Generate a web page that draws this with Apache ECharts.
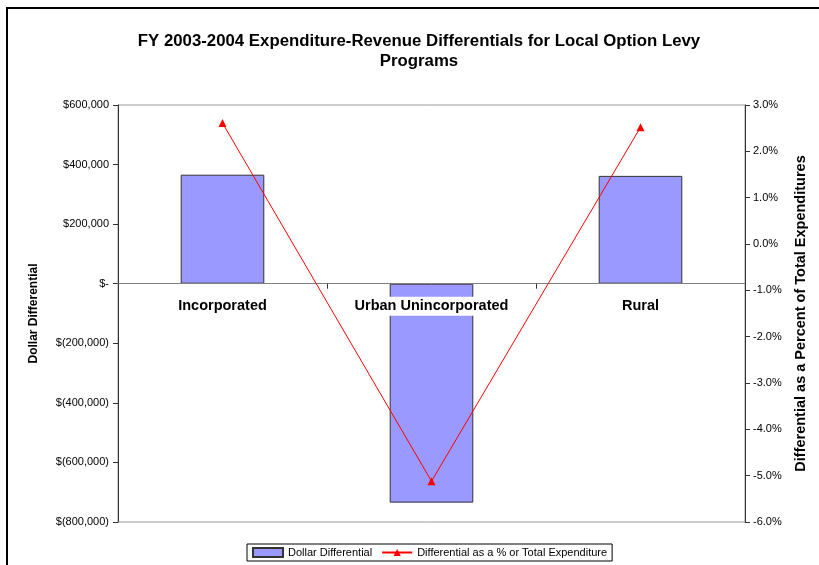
<!DOCTYPE html>
<html>
<head>
<meta charset="utf-8">
<script src="https://cdn.jsdelivr.net/npm/echarts@6/dist/echarts.min.js"></script>
<style>
  html, body { margin: 0; padding: 0; background: #fff; }
  #main { width: 819px; height: 565px; }
</style>
</head>
<body>
<div id="main"></div>
<script>
// data
const categories = ['Incorporated', 'Urban Unincorporated', 'Rural']
const dollarDiff = [366000, -735000, 362000]
const percentDiff = [2.61, -5.12, 2.52]

const dollarMin = -800000
const dollarMax = 600000

const fmtDollar = (v) => {
  if (v === 0) return '$-'
  const s = Math.abs(v).toLocaleString('en-US')
  return v < 0 ? '$(' + s + ')' : '$' + s
}

var myChart = echarts.init(document.getElementById('main'))
const font = 'Liberation Sans, Arial, sans-serif'

// grid size, used to put the category labels just under the zero line
const gridTop = 105, gridBottom = 43
const plotH = 565 - gridTop - gridBottom
const zeroFromBottom = plotH * (0 - dollarMin) / (dollarMax - dollarMin)

myChart.setOption({
  animation: false,
  textStyle: { fontFamily: font },
  graphic: [
    {
      type: 'rect',
      shape: { x: 7, y: 8, width: 900, height: 700 },
      style: { fill: 'none', stroke: '#000', lineWidth: 2 },
      silent: true
    },
    // title, a little right of the canvas centre like the original
    {
      type: 'text',
      x: 419,
      y: 31,
      style: {
        text: 'FY 2003-2004 Expenditure-Revenue Differentials for Local Option Levy\nPrograms',
        align: 'center',
        verticalAlign: 'top',
        fontFamily: font,
        fontSize: 16.8,
        fontWeight: 'bold',
        lineHeight: 20,
        fill: '#000'
      },
      silent: true
    }
  ],
  grid: {
    left: 118, right: 74, top: gridTop, bottom: gridBottom,
    show: true, borderColor: '#999', borderWidth: 1
  },
  legend: {
    bottom: 4,
    left: 247,
    borderColor: '#000',
    borderWidth: 1,
    borderRadius: 0,
    padding: [3, 5],
    itemGap: 9,
    itemWidth: 30,
    itemHeight: 9,
    textStyle: { fontSize: 11, color: '#000' },
    data: [
      { name: 'Dollar Differential', icon: 'rect' },
      'Differential as a % or Total Expenditure'
    ]
  },
  xAxis: {
    type: 'category',
    data: categories,
    z: 5,
    axisLine: { onZero: true, onZeroAxisIndex: 0, lineStyle: { color: '#808080' } },
    axisTick: { show: true, length: 5, lineStyle: { color: '#333' } },
    axisLabel: {
      fontSize: 14.5, fontWeight: 'bold', color: '#000',
      backgroundColor: '#fff', padding: [2, 0, 2, 0],
      margin: 13 - zeroFromBottom
    }
  },
  yAxis: [
    {
      type: 'value',
      min: dollarMin, max: dollarMax, interval: 200000,
      name: 'Dollar Differential',
      nameLocation: 'middle',
      nameRotate: 90,
      nameGap: 78,
      nameTextStyle: { fontSize: 12, fontWeight: 'bold', color: '#000' },
      axisLine: { show: true, lineStyle: { color: '#333' } },
      axisTick: { show: true, length: 5, lineStyle: { color: '#333' } },
      splitLine: { show: false },
      axisLabel: { fontSize: 11, color: '#000', margin: 9, formatter: fmtDollar }
    },
    {
      type: 'value',
      min: -6, max: 3, interval: 1,
      position: 'right',
      name: 'Differential as a Percent of Total Expenditures',
      nameLocation: 'middle',
      nameRotate: 90,
      nameGap: 48,
      nameTextStyle: { fontSize: 14.5, fontWeight: 'bold', color: '#000' },
      axisLine: { show: true, lineStyle: { color: '#333' } },
      axisTick: { show: true, length: 5, lineStyle: { color: '#333' } },
      splitLine: { show: false },
      axisLabel: { fontSize: 11, color: '#000', margin: 8, formatter: (v) => v.toFixed(1) + '%' }
    }
  ],
  series: [
    {
      name: 'Dollar Differential',
      type: 'bar',
      yAxisIndex: 0,
      barWidth: '40%',
      data: dollarDiff,
      itemStyle: { color: '#9999FF', borderColor: '#333', borderWidth: 1 }
    },
    {
      name: 'Differential as a % or Total Expenditure',
      type: 'line',
      yAxisIndex: 1,
      z: 6,
      data: percentDiff,
      symbol: 'triangle',
      symbolSize: 8,
      lineStyle: { color: '#FF0000', width: 1 },
      itemStyle: { color: '#FF0000' }
    }
  ]
})
</script>
</body>
</html>
